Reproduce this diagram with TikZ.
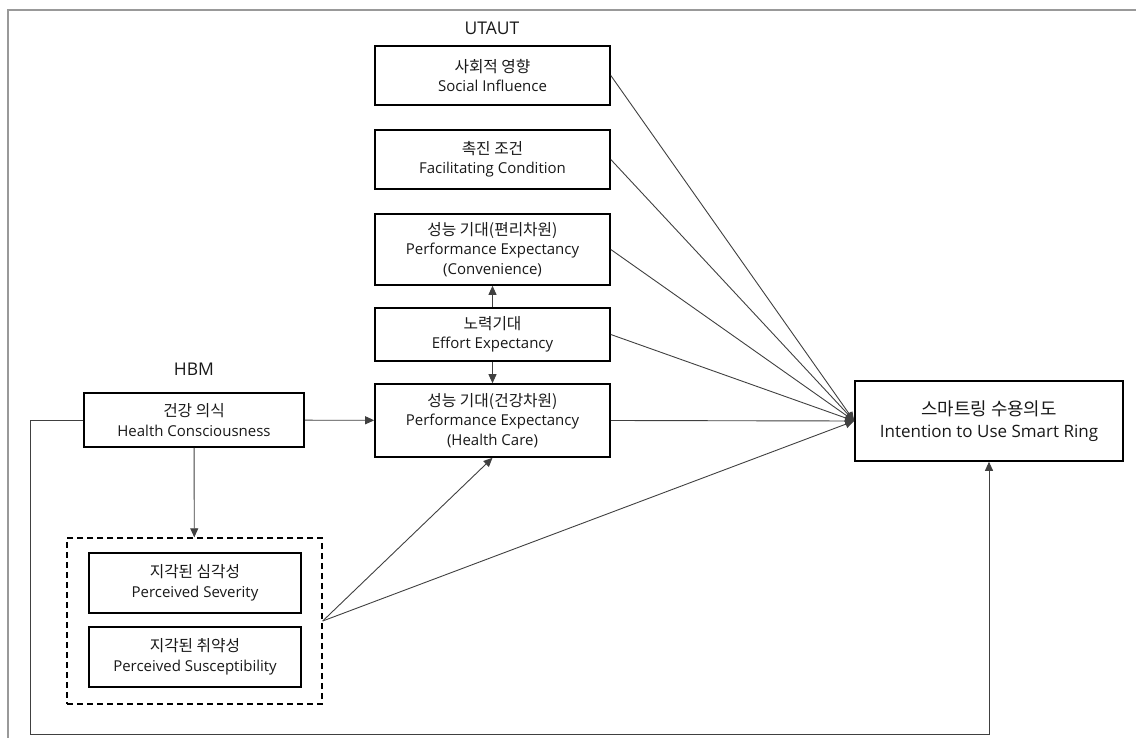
\documentclass[tikz,border=0pt]{standalone}
\usepackage{fontspec}
\setmainfont{Open Sans}
\newfontfamily\kr[Scale=1.05]{Noto Sans CJK KR}
\usetikzlibrary{arrows.meta}
\tikzset{
  box/.style={draw=black, line width=1.6pt, fill=white, inner sep=0pt, align=center,
    font=\fontsize{15}{19.5}\selectfont, text=black!90},
  bigbox/.style={box, font=\fontsize{17}{22.5}\selectfont},
  grp/.style={draw=black, line width=1.4pt, dashed, dash pattern=on 6pt off 4pt, inner sep=0pt},
  conn/.style={draw=black!75, line width=0.9pt},
  arr/.style={conn, -{Triangle[length=9pt,width=8pt]}},
  ttl/.style={font=\fontsize{17.5}{20}\selectfont, text=black!90},
  frame/.style={draw=black!40, line width=1.5pt}
}
\begin{document}
\begin{tikzpicture}[x=1pt,y=-1pt]
\useasboundingbox (0,0) rectangle (1136,738);
\coordinate (ftr) at (1136,10);
\coordinate (ftl) at (8,10);
\coordinate (fbl) at (8,738);
\draw[frame] (ftr) -- (ftl) -- (fbl);

\node[ttl] (utaut) at (492,28) {UTAUT};
\node[ttl] (hbm) at (194,369) {HBM};

\node[box, minimum width=235pt, minimum height=59pt] (si) at (492.5,75.5) {{\kr 사회적 영향}\\Social Influence};
\node[box, minimum width=235pt, minimum height=59pt] (fc) at (492.5,159.5) {{\kr 촉진 조건}\\Facilitating Condition};
\node[box, minimum width=235pt, minimum height=71pt] (pec) at (492.5,249.5) {{\kr 성능 기대(편리차원)}\\Performance Expectancy\\(Convenience)};
\node[box, minimum width=235pt, minimum height=53pt] (ee) at (492.5,334.5) {{\kr 노력기대}\\Effort Expectancy};
\node[box, minimum width=235pt, minimum height=73pt] (peh) at (492.5,420.5) {{\kr 성능 기대(건강차원)}\\Performance Expectancy\\(Health Care)};
\node[box, minimum width=220pt, minimum height=54pt] (hc) at (194,420) {{\kr 건강 의식}\\Health Consciousness};
\node[grp, minimum width=255pt, minimum height=166pt] (hbmg) at (194.5,621) {};
\node[box, minimum width=212pt, minimum height=60pt] (ps) at (195,583) {{\kr 지각된 심각성}\\Perceived Severity};
\node[box, minimum width=212pt, minimum height=60pt] (psu) at (195,657) {{\kr 지각된 취약성}\\Perceived Susceptibility};
\node[bigbox, minimum width=268pt, minimum height=80pt] (iu) at (989,421) {{\kr 스마트링 수용의도}\\Intention to Use Smart Ring};

\coordinate (l1) at (30,420);
\coordinate (l2) at (30,734);
\coordinate (l3) at (989,734);

\draw[arr] (ee) -- (pec);
\draw[arr] (ee) -- (peh);
\draw[arr] (hc) -- (peh);
\draw[arr] (hc) -- (hbmg);
\draw[arr] (hbmg.east) -- (peh.south);
\draw[arr] (si.east) -- (iu.west);
\draw[arr] (fc.east) -- (iu.west);
\draw[arr] (pec.east) -- (iu.west);
\draw[arr] (ee.east) -- (iu.west);
\draw[arr] (peh.east) -- (iu.west);
\draw[arr] (hbmg.east) -- (iu.west);
\draw[arr] (hc.west) -- (l1) -- (l2) -- (l3) -- (iu.south);
\end{tikzpicture}
\end{document}
